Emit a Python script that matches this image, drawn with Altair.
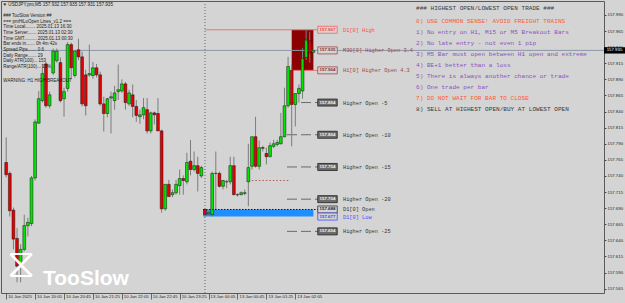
import json
import altair as alt
import pandas as pd

# ---- USDJPY.pro M5 candles; bar 0 = 10 Jan 2025 19:25 (server time), bar 85 = 13 Jan 02:30 ----
opens = [157.761, 157.744, 157.687, 157.643, 157.600, 157.626, 157.663, 157.666, 157.737, 157.822,
         157.857, 157.914, 157.849, 157.900, 157.919, 157.916, 157.860, 157.876, 157.944, 157.896,
         157.936, 157.925, 157.897, 157.897, 157.896, 157.908, 157.897, 157.852, 157.837, 157.861,
         157.857, 157.871, 157.872, 157.883, 157.852, 157.866, 157.848, 157.832, 157.835, 157.843,
         157.810, 157.838, 157.837, 157.810, 157.689, 157.727, 157.711, 157.714, 157.725, 157.736,
         157.731, 157.763, 157.750, 157.756, 157.740, 157.688, 157.681, 157.680, 157.744, 157.744,
         157.724, 157.731, 157.731, 157.756, 157.711, 157.711, 157.713, 157.731, 157.755, 157.801,
         157.755, 157.784, 157.775, 157.770, 157.786, 157.789, 157.790, 157.801, 157.849, 157.904,
         157.851, 157.868, 157.872, 157.924, 157.950, 157.932]
highs = [157.800, 157.747, 157.691, 157.659, 157.634, 157.680, 157.675, 157.740, 157.828, 157.872,
         157.914, 157.917, 157.871, 157.938, 157.938, 157.924, 157.877, 157.948, 157.947, 157.924,
         157.953, 157.933, 157.905, 157.944, 157.917, 157.914, 157.902, 157.863, 157.861, 157.871,
         157.880, 157.913, 157.890, 157.886, 157.874, 157.882, 157.858, 157.843, 157.861, 157.861,
         157.840, 157.840, 157.861, 157.812, 157.727, 157.734, 157.719, 157.734, 157.750, 157.741,
         157.776, 157.796, 157.778, 157.770, 157.756, 157.689, 157.686, 157.747, 157.778, 157.747,
         157.734, 157.734, 157.770, 157.770, 157.713, 157.716, 157.719, 157.790, 157.800, 157.832,
         157.795, 157.787, 157.784, 157.792, 157.796, 157.796, 157.838, 157.877, 157.925, 157.913,
         157.868, 157.882, 157.939, 157.967, 157.964, 157.935]
lows = [157.738, 157.677, 157.626, 157.575, 157.575, 157.623, 157.646, 157.662, 157.733, 157.821,
        157.854, 157.846, 157.845, 157.897, 157.916, 157.854, 157.832, 157.871, 157.890, 157.893,
        157.920, 157.848, 157.834, 157.894, 157.891, 157.893, 157.849, 157.809, 157.831, 157.806,
        157.843, 157.858, 157.869, 157.843, 157.849, 157.831, 157.824, 157.821, 157.828, 157.806,
        157.806, 157.820, 157.810, 157.683, 157.686, 157.708, 157.707, 157.711, 157.711, 157.711,
        157.727, 157.741, 157.747, 157.716, 157.737, 157.677, 157.678, 157.677, 157.687, 157.722,
        157.719, 157.721, 157.727, 157.710, 157.708, 157.710, 157.710, 157.693, 157.750, 157.753,
        157.750, 157.778, 157.758, 157.769, 157.783, 157.786, 157.789, 157.800, 157.846, 157.786,
        157.817, 157.854, 157.860, 157.920, 157.916, 157.931]
closes = [157.742, 157.686, 157.642, 157.600, 157.626, 157.663, 157.668, 157.737, 157.824, 157.860,
          157.899, 157.849, 157.866, 157.934, 157.934, 157.857, 157.871, 157.944, 157.908, 157.934,
          157.925, 157.852, 157.849, 157.899, 157.908, 157.897, 157.852, 157.837, 157.860, 157.863,
          157.869, 157.874, 157.883, 157.854, 157.869, 157.848, 157.834, 157.835, 157.846, 157.810,
          157.838, 157.835, 157.810, 157.689, 157.727, 157.708, 157.714, 157.727, 157.736, 157.733,
          157.761, 157.750, 157.756, 157.744, 157.753, 157.680, 157.683, 157.744, 157.744, 157.724,
          157.733, 157.731, 157.756, 157.711, 157.711, 157.714, 157.714, 157.753, 157.801, 157.755,
          157.784, 157.783, 157.770, 157.787, 157.790, 157.792, 157.801, 157.849, 157.910, 157.851,
          157.868, 157.876, 157.922, 157.951, 157.931, 157.935]

time_tick_bars = [0, 8, 16, 24, 32, 40, 48, 56, 64, 72, 80]
time_tick_labels = ["10 Jan 2025", "10 Jan 20:05", "10 Jan 20:45", "10 Jan 21:25", "10 Jan 22:05",
                    "10 Jan 22:45", "10 Jan 23:25", "13 Jan 00:05", "13 Jan 00:45", "13 Jan 01:25",
                    "13 Jan 02:05"]
price_ticks = [157.565, 157.590, 157.615, 157.640, 157.665, 157.690, 157.715, 157.740, 157.765,
               157.790, 157.815, 157.840, 157.865, 157.890, 157.915, 157.940, 157.965, 157.990]

level_prices = [157.967, 157.935, 157.904, 157.854, 157.804, 157.754, 157.704, 157.688, 157.677, 157.654]
level_names = ["D1[0] High", "M30[0] Higher Open 3.4", "H1[0] Higher Open 4.3", "Higher Open -5",
               "Higher Open -10", "Higher Open -15", "Higher Open -20", "D1[0] Open", "D1[0] Low",
               "Higher Open -25"]
level_kinds = ["high", "mid", "mid", "ladder", "ladder", "ladder", "ladder", "open", "low", "ladder"]

d1_high, d1_open, d1_low, h1_open = 157.967, 157.688, 157.677, 157.904
current_bid = 157.935
day_start_bar, h1_start_bar, last_bar = 55, 79, 85
dotted_level, dotted_from_bar, dotted_to_bar = 157.733, 67, 78.5

header_text = "\u25bc USDJPY.pro,M5  157.932 157.935 157.931 157.935"
info_lines = ["### TooSlow Version ##", "=== pmHiLoOpen Lines_v1.2 ===",
              "Time Local........ 2025.01.13 16:30", "Time Server....... 2025.01.13 02:30",
              "Time GMT.......... 2025.01.13 00:30", "Bar ends in....... 0h 4m 42s",
              "Spread Pips....... 0.6", "Daily Range....... 29", "Daily ATR(100)... 153",
              "Range/ATR(100)... 19%"]
warning_text = "WARNING: H1 HIGH BREAKOUT"
rules_lines = ["### HIGHEST OPEN/LOWEST OPEN TRADE ###",
               "0) USE COMMON SENSE!  AVOID FREIGHT TRAINS",
               "1) No entry on H1, M15 or M5 Breakout Bars",
               "2) No late entry - not even 1 pip",
               "3) M5 Bar must open between H1 open and extreme",
               "4) BE+1 better than a loss",
               "5) There is always another chance or trade",
               "6) One trade per bar",
               "7) DO NOT WAIT FOR BAR TO CLOSE",
               "8) SELL AT HIGHEST OPEN/BUY AT LOWEST OPEN"]
watermark = "TooSlow"

# ---------------- layout / styling ----------------
BG = "#D4D4D4"
W, H = 603, 292
xs = alt.Scale(domain=[-0.054, 164.03], nice=False, zero=False)
ys = alt.Scale(domain=[157.5583, 158.0117], nice=False, zero=False)


def px(a):
    return a - 1


bars = pd.DataFrame({"i": list(range(len(opens))), "open": opens, "high": highs,
                     "low": lows, "close": closes})
bars["dir"] = ["up" if c >= o else "down" for o, c in zip(opens, closes)]

label_expr = json.dumps(time_tick_labels) + "[round(datum.value / 8)]"
x_axis = alt.Axis(orient="bottom", values=time_tick_bars, labelExpr=label_expr, title=None,
                  grid=False, domain=False, tickSize=6, tickColor="#4a4a4a", tickWidth=0.8,
                  labelAlign="left", labelBaseline="top", labelPadding=-4.5, labelOffset=1.5,
                  labelFontSize=4.3, labelColor="#1e1e1e", labelFlush=False, labelOverlap=False,
                  labelFont="Liberation Sans")
y_axis = alt.Axis(orient="right", values=price_ticks, format=".3f", title=None, grid=False,
                  domain=False, tickSize=2, tickColor="#4a4a4a", labelPadding=1,
                  labelFontSize=4.3, labelColor="#1e1e1e", labelOverlap=False,
                  labelFont="Liberation Sans")

X = lambda f: alt.X(f, scale=xs, axis=x_axis)
Y = lambda f: alt.Y(f, scale=ys, axis=y_axis)

layers = []

# day separator
layers.append(alt.Chart(pd.DataFrame({"i": [day_start_bar]})).mark_rule(
    color="#6a6a6a", strokeDash=[1, 2], strokeWidth=1).encode(x=X("i:Q")))

# zones: today's open..low band and current H1 high box
day_zone = pd.DataFrame({"start": [day_start_bar - 0.5], "end": [last_bar],
                         "top": [d1_open], "bottom": [d1_low]})
h1_zone = pd.DataFrame({"start": [h1_start_bar], "end": [last_bar],
                        "top": [d1_high], "bottom": [h1_open]})
for z, col in [(day_zone, "#1E8FFF"), (h1_zone, "#8B0000")]:
    layers.append(alt.Chart(z).mark_rect(color=col).encode(
        x=X("start:Q"), x2="end:Q", y=Y("top:Q"), y2="bottom:Q"))

# bid line
layers.append(alt.Chart(pd.DataFrame({"p": [current_bid]})).mark_rule(
    color="#8a98a8", strokeWidth=1).encode(y=Y("p:Q"), x=alt.value(0), x2=alt.value(W)))

# red D1 high / H1 open lines
layers.append(alt.Chart(pd.DataFrame({"p": [d1_high, h1_open],
                                      "start": [day_start_bar, h1_start_bar]})).mark_rule(
    color="#EE7272", strokeWidth=1).encode(y=Y("p:Q"), x=X("start:Q"), x2=alt.value(px(318))))

levels = pd.DataFrame({"p": level_prices, "name": level_names, "kind": level_kinds})

# ladder dashes
layers.append(alt.Chart(levels).transform_filter(alt.datum.kind == "ladder").mark_rule(
    color="#6a6a6a", strokeDash=[10, 4], strokeWidth=1).encode(
    y=Y("p:Q"), x=alt.value(px(287)), x2=alt.value(px(318))))

# dotted red level
layers.append(alt.Chart(pd.DataFrame({"p": [dotted_level], "a": [dotted_from_bar],
                                      "b": [dotted_to_bar]})).mark_rule(
    color="#b45a5a", strokeDash=[1.5, 2], strokeWidth=1.2).encode(
    y=Y("p:Q"), x=X("a:Q"), x2="b:Q"))

# candles
layers.append(alt.Chart(bars).mark_rule(color="#7c7c7c", strokeWidth=1).encode(
    x=X("i:Q"), y=Y("low:Q"), y2="high:Q"))
for d, col in [("up", "#00E400"), ("down", "#E80000")]:
    layers.append(alt.Chart(bars).transform_filter(alt.datum.dir == d).mark_bar(
        size=2.8, color=col, stroke="#151515", strokeWidth=0.5).encode(
        x=X("i:Q"), y=Y("open:Q"), y2="close:Q"))

# dotted D1 open line over the band
layers.append(alt.Chart(pd.DataFrame({"p": [d1_open]})).mark_rule(
    color="#10104a", strokeDash=[1.5, 1.5], strokeWidth=1).encode(
    y=Y("p:Q"), x=alt.value(px(203)), x2=alt.value(px(318))))

# level price boxes and names
box_shape = "M-1,-0.36L1,-0.36L1,0.36L-1,0.36Z"
styles = {
    "high": ("#D4D4D4", "#FF6060", "#FF3b3b", "#FF4a4a"),
    "mid": ("#D4D4D4", "#A04848", "#8a2a2a", "#a0463c"),
    "ladder": ("#6c6c6c", "#202020", "#f4f4f4", "#333333"),
    "open": ("#D4D4D4", "#303030", "#202020", "#333333"),
    "low": ("#D4D4D4", "#4a4aff", "#3a3aff", "#4d4dff"),
}
for k, (fill, stroke, tcol, ncol) in styles.items():
    sub = alt.Chart(levels).transform_filter(alt.datum.kind == k)
    layers.append(sub.mark_point(shape=box_shape, size=380, filled=True, fill=fill,
                                 stroke=stroke, strokeWidth=0.8, opacity=1).encode(
        y=Y("p:Q"), x=alt.value(px(327.5))))
    layers.append(sub.mark_text(fontSize=4.4, font="Liberation Sans", fontWeight="bold",
                                color=tcol).encode(
        y=Y("p:Q"), x=alt.value(px(327.5)), text=alt.Text("p:Q", format=".3f")))
    layers.append(sub.mark_text(fontSize=5.3, font="Liberation Mono", align="left",
                                color=ncol).encode(
        y=Y("p:Q"), x=alt.value(px(343)), text="name:N"))

# current price tag on the price scale
tag = alt.Chart(pd.DataFrame({"p": [current_bid]}))
layers.append(tag.mark_point(shape="M-1,-0.3L1,-0.3L1,0.3L-1,0.3Z", size=441, filled=True,
                             color="#000000", opacity=1).encode(y=Y("p:Q"), x=alt.value(px(614.5))))
layers.append(tag.mark_text(fontSize=4.3, font="Liberation Sans", color="#ffffff").encode(
    y=Y("p:Q"), x=alt.value(px(614.5)), text=alt.Text("p:Q", format=".3f")))


def text_layer(t, x, y, **kw):
    return alt.Chart(pd.DataFrame({"t": [t]})).mark_text(**kw).encode(
        x=alt.value(px(x)), y=alt.value(px(y)), text="t:N")


purple = "#8a52c0"
orange = "#ff5a34"
dark = "#3a3a3a"
rule_colors = [dark, orange, purple, purple, purple, purple, purple, purple, orange, dark]
rule_y = [7.5, 20.7, 32, 43, 54, 65.3, 76.3, 87.3, 98, 108.6]
for t, yy, c in zip(rules_lines, rule_y, rule_colors):
    layers.append(text_layer(t, 416, yy, align="left", baseline="middle",
                             font="Liberation Mono", fontSize=6.07, color=c))

layers.append(text_layer("\n".join(info_lines), 3.3, 13, align="left", baseline="top",
                         font="Liberation Sans", fontSize=4.5, color="#1c1c1c", lineBreak="\n",
                         lineHeight=5.65))
layers.append(text_layer(warning_text, 3.3, 81, align="left", baseline="middle",
                         font="Liberation Sans", fontSize=4.5, color="#1c1c1c"))
layers.append(text_layer(header_text, 2.5, 5, align="left", baseline="middle",
                         font="Liberation Sans", fontSize=4.6, color="#1c1c1c"))
layers.append(text_layer(watermark, 43, 285, align="left", baseline="alphabetic",
                         font="Liberation Sans", fontSize=21, fontWeight="bold", color="#ffffff"))
layers.append(text_layer("\u29d6", 21, 265, align="center", baseline="middle",
                         font="DejaVu Sans", fontSize=40, color="#ffffff"))

chart = alt.layer(*layers).properties(
    width=W, height=H, background=BG,
    padding={"left": 1, "top": 1, "right": 21, "bottom": 10},
    autosize=alt.AutoSizeParams(type="none")
).configure_view(stroke="#5a5a5a", strokeWidth=1)

chart.save("out.html", embed_options={"renderer": "svg", "actions": False})
